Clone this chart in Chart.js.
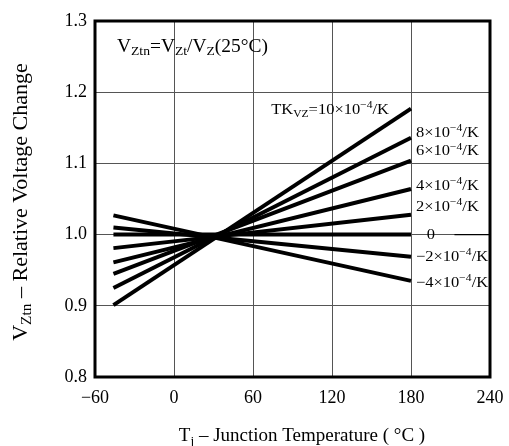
<!DOCTYPE html>
<html lang="en">
<head>
<meta charset="UTF-8">
<title>Relative Voltage Change vs Junction Temperature</title>
<script src="https://cdn.jsdelivr.net/npm/chart.js@4.4.1/dist/chart.umd.min.js"></script>
<style>
  body { margin: 0; background: #fff; }
</style>
</head>
<body>
<canvas id="chart" width="509" height="446"></canvas>
<script>
// temperature coefficients, x10^-4 /K
const coeffs = ['10', '8', '6', '4', '2', '0', '-2', '-4'];
// lines run from about -46 C to 180 C
const tempStart = -46;
const tempEnd = 180;
const startValues = [0.901, 0.925, 0.945, 0.961, 0.981, 1.000, 1.010, 1.027];
const endValues = [1.177, 1.136, 1.104, 1.064, 1.028, 1.000, 0.969, 0.935];
// where each label sits (relative voltage)
const labelValues = [1.175, 1.143, 1.117, 1.068, 1.039, 1.000, 0.969, 0.932];
const xTicks = [-60, 0, 60, 120, 180, 240];
const yTicks = [0.8, 0.9, 1.0, 1.1, 1.2, 1.3];

const serif = '"Liberation Serif", "DejaVu Serif", serif';

const datasets = coeffs.map((c, i) => ({
    label: c,
    data: [{ x: tempStart, y: startValues[i] }, { x: tempEnd, y: endValues[i] }],
    borderColor: '#000',
    borderWidth: 4,
    pointRadius: 0,
    borderCapStyle: 'butt'
}));
// short leader after the "0" label
datasets.push({
    label: 'lead',
    data: [{ x: 213, y: 1.0 }, { x: 240, y: 1.0 }],
    borderColor: '#000',
    borderWidth: 1.2,
    pointRadius: 0
});

// draws text made of normal / sub / sup pieces
function drawRich(ctx, x, y, parts, size, align, sx) {
    sx = sx || 1;
    ctx.save();
    ctx.translate(x, y);
    ctx.scale(sx, 1);
    let total = 0;
    parts.forEach(p => {
        ctx.font = (p[1] == 'n' ? size : size * 0.7) + 'px ' + serif;
        total += ctx.measureText(p[0]).width;
    });
    let cx = 0;
    if (align == 'right') cx = -total;
    if (align == 'center') cx = -total / 2;
    ctx.textBaseline = 'middle';
    ctx.fillStyle = '#000';
    parts.forEach(p => {
        ctx.font = (p[1] == 'n' ? size : size * 0.7) + 'px ' + serif;
        let dy = 0;
        if (p[1] == 'sub') dy = size * 0.28;
        if (p[1] == 'sup') dy = -size * 0.3;
        ctx.fillText(p[0], cx, dy);
        cx += ctx.measureText(p[0]).width;
    });
    ctx.restore();
}

function coeffParts(c) {
    if (c == '0') return [['0', 'n']];
    const sign = c.startsWith('-') ? '\u2212' : '';
    return [[sign + c.replace('-', '') + '\u00d710', 'n'], ['\u2212' + '4', 'sup'], ['/K', 'n']];
}

const annotate = {
    id: 'annotate',
    afterDatasetsDraw(chart) {
        const ctx = chart.ctx;
        const a = chart.chartArea;
        const xs = chart.scales.x, ys = chart.scales.y;

        // frame
        ctx.save();
        ctx.strokeStyle = '#000';
        ctx.lineWidth = 3;
        ctx.strokeRect(a.left, a.top, a.right - a.left, a.bottom - a.top);
        ctx.restore();

        // formula inside plot
        drawRich(ctx, a.left + 22, a.top + 26,
            [['V', 'n'], ['Ztn', 'sub'], ['=V', 'n'], ['Zt', 'sub'], ['/V', 'n'], ['Z', 'sub'], ['(25\u00b0C)', 'n']],
            18, 'left', 1.08);

        // line labels
        coeffs.forEach((c, i) => {
            const py = ys.getPixelForValue(labelValues[i]);
            if (i == 0) {
                drawRich(ctx, xs.getPixelForValue(tempEnd) - 22, py,
                    [['TK', 'n'], ['VZ', 'sub'], ['=10\u00d710', 'n'], ['\u22124', 'sup'], ['/K', 'n']], 15, 'right', 1.1);
            } else if (c == '0') {
                drawRich(ctx, xs.getPixelForValue(195), py, coeffParts(c), 15, 'center', 1.1);
            } else {
                drawRich(ctx, xs.getPixelForValue(tempEnd) + 5, py, coeffParts(c), 15, 'left', 1.1);
            }
        });

        // axis titles
        drawRich(ctx, 302, 436,
            [['T', 'n'], ['j', 'sub'], [' \u2013 Junction Temperature ( \u00b0C )', 'n']], 19, 'center');
        ctx.save();
        ctx.translate(22, 202);
        ctx.rotate(-Math.PI / 2);
        drawRich(ctx, 0, 0,
            [['V', 'n'], ['Ztn', 'sub'], [' \u2013 Relative Voltage Change', 'n']], 20, 'center', 1.1);
        ctx.restore();
    }
};

new Chart(document.getElementById('chart'), {
    type: 'line',
    data: { datasets: datasets },
    options: {
        responsive: false,
        animation: false,
        layout: { padding: { top: 21, right: 19, left: 0, bottom: 0 } },
        plugins: { legend: { display: false }, tooltip: { enabled: false } },
        scales: {
            x: {
                type: 'linear',
                min: xTicks[0],
                max: xTicks[xTicks.length - 1],
                afterBuildTicks: s => { s.ticks = xTicks.map(v => ({ value: v })); },
                afterFit: s => { s.height = 69; s.paddingLeft = 0; s.paddingRight = 0; },
                ticks: {
                    color: '#000',
                    padding: 10,
                    font: { family: serif, size: 18 },
                    callback: v => (v < 0 ? '\u2212' + Math.abs(v) : '' + v)
                },
                grid: { color: '#555', lineWidth: 1, drawTicks: false },
                border: { display: false }
            },
            y: {
                min: yTicks[0],
                max: yTicks[yTicks.length - 1],
                afterBuildTicks: s => { s.ticks = yTicks.map(v => ({ value: v })); },
                afterFit: s => { s.width = 95; s.paddingTop = 0; s.paddingBottom = 0; },
                ticks: {
                    color: '#000',
                    padding: 8,
                    font: { family: serif, size: 18 },
                    callback: v => Number(v).toFixed(1)
                },
                grid: { color: '#555', lineWidth: 1, drawTicks: false },
                border: { display: false }
            }
        }
    },
    plugins: [annotate]
});
</script>
</body>
</html>
